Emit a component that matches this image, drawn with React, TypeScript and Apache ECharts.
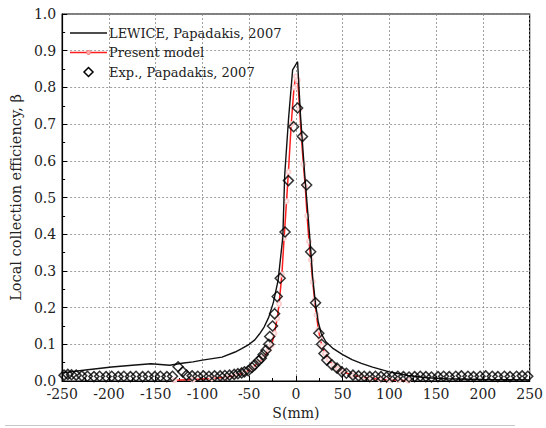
import React, { useEffect, useRef } from "react";
import * as echarts from "echarts";

const lewiceS = [-250, -225, -197, -175, -155, -135, -120, -110, -100, -79, -65, -58, -50, -44, -39, -34, -29, -24, -19, -14, -12, -8, -3.5, 1.8, 5, 9.5, 13, 15.8, 18, 21, 24, 27, 32, 40, 50, 60, 70, 82, 100, 120, 140, 160, 200, 250];
const lewiceB = [0.022, 0.03, 0.038, 0.043, 0.047, 0.043, 0.049, 0.052, 0.057, 0.065, 0.079, 0.088, 0.1, 0.112, 0.128, 0.147, 0.174, 0.215, 0.275, 0.392, 0.56, 0.71, 0.848, 0.87, 0.72, 0.56, 0.45, 0.36, 0.28, 0.21, 0.16, 0.13, 0.107, 0.088, 0.072, 0.058, 0.048, 0.038, 0.025, 0.015, 0.009, 0.006, 0.004, 0.003];

const modelS = [-130, -110, -90, -75, -65, -55, -47, -40, -35, -29, -26, -23, -20, -18, -15, -12.6, -10, -8, -5, -2, 0, 2, 4, 6, 8, 10, 12, 14, 16, 18, 20, 22, 24, 26, 28, 31, 35, 40, 45, 50, 60, 70, 80, 90, 100, 110, 120];
const modelB = [0.002, 0.004, 0.007, 0.01, 0.015, 0.022, 0.035, 0.05, 0.063, 0.085, 0.097, 0.13, 0.17, 0.21, 0.29, 0.39, 0.49, 0.57, 0.7, 0.8, 0.83, 0.82, 0.74, 0.66, 0.59, 0.53, 0.45, 0.38, 0.33, 0.27, 0.22, 0.18, 0.14, 0.115, 0.095, 0.075, 0.058, 0.043, 0.033, 0.026, 0.016, 0.011, 0.007, 0.005, 0.003, 0.002, 0.001];

const expS = [-248, -244, -240, -235, -229, -223, -216, -210, -203, -197, -190, -184, -177, -171, -164, -158, -151, -145, -138, -132, -126, -121, -117, -111, -105, -99, -93, -87, -81, -76, -71, -66, -62, -58, -55, -51, -47, -44, -40, -37, -35, -32, -29, -28, -25, -22.8, -20, -16.8, -11.6, -8, -2.4, 1.8, 7, 11.5, 15.8, 21, 24.5, 27.5, 30, 33, 38.5, 44, 49, 54, 61, 67, 73, 79, 85, 91, 97, 103, 109, 115, 121, 127, 133, 139, 145, 152, 158, 164, 171, 177, 184, 190, 197, 203, 210, 216, 223, 229, 236, 242, 248];
const expB = [0.016, 0.018, 0.017, 0.016, 0.014, 0.013, 0.012, 0.013, 0.012, 0.013, 0.012, 0.013, 0.012, 0.013, 0.012, 0.013, 0.012, 0.013, 0.012, 0.013, 0.039, 0.025, 0.016, 0.014, 0.013, 0.014, 0.013, 0.014, 0.014, 0.015, 0.016, 0.018, 0.02, 0.022, 0.025, 0.028, 0.037, 0.044, 0.055, 0.062, 0.072, 0.084, 0.1, 0.121, 0.15, 0.183, 0.23, 0.28, 0.406, 0.546, 0.693, 0.744, 0.666, 0.534, 0.352, 0.213, 0.13, 0.1, 0.075, 0.057, 0.044, 0.035, 0.025, 0.021, 0.016, 0.014, 0.013, 0.012, 0.013, 0.012, 0.011, 0.012, 0.013, 0.012, 0.011, 0.012, 0.013, 0.012, 0.011, 0.012, 0.013, 0.012, 0.013, 0.014, 0.013, 0.012, 0.013, 0.014, 0.013, 0.012, 0.013, 0.012, 0.013, 0.014, 0.013];

const seriesNames = ["LEWICE, Papadakis, 2007", "Present model", "Exp., Papadakis, 2007"];

const FONT = "DejaVu Serif";
const TXT = "#222";
const RED = "#ff1f1f";

export default function App() {
  const ref = useRef<HTMLDivElement>(null);
  useEffect(() => {
    if (!ref.current) return;
    const chart = echarts.init(ref.current, null, { renderer: "svg" });
    const pair = (xs: number[], ys: number[]) => xs.map((x, i) => [x, ys[i]]);
    const legendX = 70;
    const legendW = 37;
    const textX = 109;
    const rows = [33, 52.5, 72];
    chart.setOption({
      animation: false,
      backgroundColor: "#fff",
      grid: { left: 57, right: 13, top: 14, bottom: 47, show: true, borderColor: "#000", borderWidth: 1.2, backgroundColor: "transparent" },
      xAxis: {
        type: "value",
        min: -250,
        max: 250,
        interval: 50,
        name: "S(mm)",
        nameLocation: "middle",
        nameGap: 25,
        nameTextStyle: { fontFamily: FONT, fontSize: 14, color: TXT },
        axisLine: { show: true, onZero: false, lineStyle: { color: "#000", width: 1.2 } },
        axisTick: { show: true, inside: true, length: 5, lineStyle: { color: "#000" } },
        minorTick: { show: true, splitNumber: 2, length: 3, lineStyle: { color: "#000" } },
        axisLabel: { fontFamily: FONT, fontSize: 14, color: TXT, margin: 6 },
        splitLine: { show: true, lineStyle: { color: "#888", type: [2, 2], width: 0.8 } },
      },
      yAxis: {
        type: "value",
        min: 0,
        max: 1,
        interval: 0.1,
        name: "Local collection efficiency, β",
        nameLocation: "middle",
        nameGap: 34,
        nameTextStyle: { fontFamily: FONT, fontSize: 14.5, color: TXT },
        axisLine: { show: true, onZero: false, lineStyle: { color: "#000", width: 1.2 } },
        axisTick: { show: true, inside: true, length: 5, lineStyle: { color: "#000" } },
        minorTick: { show: true, splitNumber: 2, length: 3, lineStyle: { color: "#000" } },
        axisLabel: { fontFamily: FONT, fontSize: 14, color: TXT, margin: 6, formatter: (v: number) => v.toFixed(1) },
        splitLine: { show: true, lineStyle: { color: "#888", type: [2, 2], width: 0.8 } },
      },
      series: [
        {
          name: seriesNames[0],
          type: "line",
          data: pair(lewiceS, lewiceB),
          symbol: "none",
          lineStyle: { color: "#111", width: 1.4 },
          itemStyle: { color: "#111" },
          z: 3,
        },
        {
          name: seriesNames[1],
          type: "line",
          data: pair(modelS, modelB),
          symbol: "emptyCircle",
          symbolSize: 4,
          showSymbol: true,
          lineStyle: { color: RED, width: 1.5 },
          itemStyle: { color: "#ffd0d0", borderColor: "#ff6a6a", borderWidth: 1 },
          z: 2,
        },
        {
          name: seriesNames[2],
          type: "scatter",
          data: pair(expS, expB),
          symbol: "diamond",
          symbolSize: 10,
          itemStyle: { color: "rgba(0,0,0,0)", borderColor: "#000", borderWidth: 1.5 },
          z: 4,
        },
      ],
      graphic: [
        { type: "line", shape: { x1: legendX, y1: rows[0], x2: legendX + legendW, y2: rows[0] }, style: { stroke: "#111", lineWidth: 1.4 }, z: 10 },
        { type: "text", x: textX, y: rows[0], style: { text: seriesNames[0], fontFamily: FONT, fontSize: 13, fill: TXT, verticalAlign: "middle" }, z: 10 },
        { type: "line", shape: { x1: legendX, y1: rows[1], x2: legendX + legendW, y2: rows[1] }, style: { stroke: RED, lineWidth: 1.4 }, z: 10 },
        { type: "circle", shape: { cx: legendX + legendW / 2, cy: rows[1], r: 2 }, style: { fill: "#ffb0b0", stroke: "#ff6a6a", lineWidth: 1 }, z: 11 },
        { type: "text", x: textX, y: rows[1], style: { text: seriesNames[1], fontFamily: FONT, fontSize: 13, fill: TXT, verticalAlign: "middle" }, z: 10 },
        { type: "polygon", shape: { points: [[legendX + legendW / 2, rows[2] - 4.5], [legendX + legendW / 2 + 4.5, rows[2]], [legendX + legendW / 2, rows[2] + 4.5], [legendX + legendW / 2 - 4.5, rows[2]]] }, style: { fill: "rgba(0,0,0,0)", stroke: "#000", lineWidth: 1.5 }, z: 10 },
        { type: "text", x: textX, y: rows[2], style: { text: seriesNames[2], fontFamily: FONT, fontSize: 13, fill: TXT, verticalAlign: "middle" }, z: 10 },
        { type: "line", shape: { x1: 5, y1: 425.5, x2: 515, y2: 425.5 }, style: { stroke: "#c8c8c8", lineWidth: 1 } },
      ],
    });
    return () => chart.dispose();
  }, []);
  return <div ref={ref} style={{ width: 546, height: 428, position: "absolute", left: 0, top: 0 }} />;
}
